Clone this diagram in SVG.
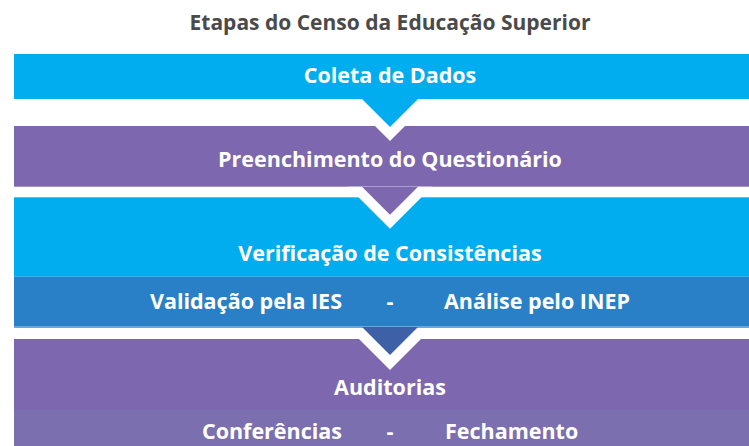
<svg xmlns="http://www.w3.org/2000/svg" width="749" height="446" viewBox="0 0 749 446">
  <style>
    text { font-family: "Open Sans", "Noto Sans", "DejaVu Sans", sans-serif; }
    .title { font-size: 21px; font-weight: 700; fill: #4a4a4a; text-anchor: middle; }
    .lbl { font-size: 21.5px; font-weight: 700; fill: #ffffff; text-anchor: middle; }
    .lbl.s { text-anchor: start; }
    .lbl.e { text-anchor: end; }
    .blue { fill: #01adee; }
    .purple { fill: #7d67ae; }
    .dblue { fill: #2980c6; }
    .lpurple { fill: #7b6faf; }
    .tri-dark { fill: #3e60a6; }
    .notch { fill: #ffffff; }
  </style>
  <defs>
    <polygon id="tri" points="-28,0 28,0 0,28"/>
    <polygon id="halo" points="-42,0 42,0 0,42"/>
  </defs>
  <rect width="749" height="446" fill="#ffffff"/>
  <text class="title" x="390" y="30">Etapas do Censo da Educação Superior</text>

  <g id="coleta">
    <rect class="blue" x="14" y="54" width="735" height="45"/>
    <text class="lbl" x="390" y="83">Coleta de Dados</text>
  </g>

  <g id="preenchimento">
    <rect class="purple" x="14" y="126" width="735" height="60.7"/>
    <text class="lbl" x="390" y="167">Preenchimento do Questionário</text>
  </g>

  <g id="verificacao">
    <rect class="blue" x="14" y="197.3" width="735" height="79.4"/>
    <rect class="dblue" x="14" y="276.7" width="735" height="50"/>
    <rect x="14" y="326.7" width="735" height="1.3" fill="#6aa9dc"/>
    <text class="lbl" x="390" y="261">Verificação de Consistências</text>
    <text class="lbl e" x="342" y="308.5">Validação pela IES</text>
    <text class="lbl" x="390" y="308.5">-</text>
    <text class="lbl s" x="444" y="308.5">Análise pelo INEP</text>
  </g>

  <g id="auditorias">
    <rect class="purple" x="14" y="339" width="735" height="71"/>
    <rect class="lpurple" x="14" y="410" width="735" height="36"/>
    <text class="lbl" x="390" y="395">Auditorias</text>
    <text class="lbl e" x="342" y="438.5">Conferências</text>
    <text class="lbl" x="390" y="438.5">-</text>
    <text class="lbl s" x="445" y="438.5">Fechamento</text>
  </g>

  <g id="connectors">
    <use href="#halo" class="notch" x="390" y="99"/>
    <use href="#tri" class="blue" x="390" y="99"/>
    <use href="#halo" class="notch" x="390" y="186.7"/>
    <use href="#tri" class="purple" x="390" y="186.7"/>
    <use href="#halo" class="notch" x="390" y="328"/>
    <use href="#tri" class="tri-dark" x="390" y="327"/>
  </g>
</svg>
